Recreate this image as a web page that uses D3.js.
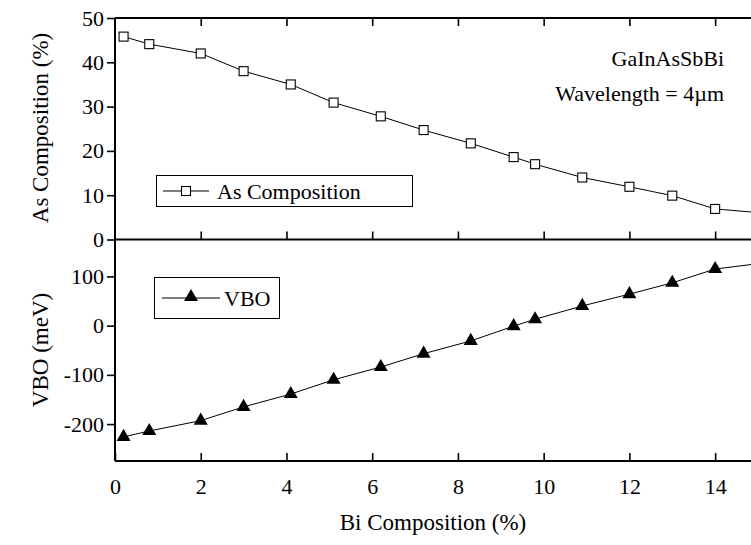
<!DOCTYPE html>
<html><head><meta charset="utf-8">
<script src="https://cdnjs.cloudflare.com/ajax/libs/d3/7.8.5/d3.min.js"></script>
</head><body style="margin:0"><svg id="c" width="751" height="545"></svg>
<script>
const biComp = [0.2, 0.8, 2.0, 3.0, 4.1, 5.1, 6.2, 7.2, 8.3, 9.3, 9.8, 10.9, 12.0, 13.0, 14.0, 15.1];
const asComp = [45.8, 44.1, 42.0, 38.0, 35.0, 30.9, 27.8, 24.7, 21.7, 18.6, 17.0, 14.0, 11.9, 9.9, 6.9, 6.0];
const vbo = [-226, -214, -193, -165, -139, -110, -84, -57, -31, -1, 13, 40, 64, 87, 115, 127];
const xTicks = [0, 2, 4, 6, 8, 10, 12, 14];
const asTicks = [0, 10, 20, 30, 40, 50];
const vboTicks = [-200, -100, 0, 100];
const xDomain = [0, 15], asDomain = [0, 50], vboDomain = [-275, 175];

const FONT = "Liberation Serif";
const svg = d3.select("#c");
const L = 115, R = 758, T1 = 18, MID = 239.5, B2 = 461;
const x = d3.scaleLinear().domain(xDomain).range([L, R]);
const y1 = d3.scaleLinear().domain(asDomain).range([MID, T1]);
const y2 = d3.scaleLinear().domain(vboDomain).range([B2, MID]);
const FS = 22;
const fmt = d => String(d);

const defs = svg.append("defs");
defs.append("clipPath").attr("id","cp1").append("rect").attr("x",L).attr("y",T1).attr("width",R-L).attr("height",MID-T1);
defs.append("clipPath").attr("id","cp2").append("rect").attr("x",L).attr("y",MID).attr("width",R-L).attr("height",B2-MID);

function styleAxis(g){
  g.attr("font-family", FONT).attr("font-size", FS);
  g.select(".domain").remove();
  g.selectAll(".tick line").attr("stroke","#000").attr("stroke-width",1.6);
  g.selectAll(".tick text").attr("font-size",FS).attr("font-family",FONT).style("font-family",FONT).attr("fill","#000");
}
svg.append("g").attr("transform",`translate(${L},0)`).call(d3.axisLeft(y1).tickValues(asTicks).tickSize(8).tickPadding(3).tickFormat(fmt)).call(styleAxis);
svg.append("g").attr("transform",`translate(${L},0)`).call(d3.axisLeft(y2).tickValues(vboTicks).tickSize(8).tickPadding(3).tickFormat(fmt)).call(styleAxis);
svg.append("g").attr("transform",`translate(${R},0)`).call(d3.axisLeft(y1).tickValues(asTicks.slice(1,5)).tickSize(6).tickFormat("")).call(styleAxis);
svg.append("g").attr("transform",`translate(${R},0)`).call(d3.axisLeft(y2).tickValues(vboTicks).tickSize(6).tickFormat("")).call(styleAxis);
svg.append("g").attr("transform",`translate(0,${T1})`).call(d3.axisBottom(x).tickValues(xTicks.slice(1)).tickSize(8).tickFormat("")).call(styleAxis);
svg.append("g").attr("transform",`translate(0,${MID})`).call(d3.axisTop(x).tickValues(xTicks.slice(1)).tickSize(8).tickFormat("")).call(styleAxis);
svg.append("g").attr("transform",`translate(0,${B2})`).call(d3.axisTop(x).tickValues(xTicks).tickSize(8).tickFormat("")).call(styleAxis);
svg.append("g").attr("transform",`translate(0,${B2})`).call(d3.axisBottom(x).tickValues(xTicks).tickSize(0).tickPadding(17).tickFormat(fmt)).call(styleAxis);

const fr = svg.append("g").attr("stroke","#000").attr("stroke-width",2).attr("fill","none");
fr.append("line").attr("x1",L).attr("x2",L).attr("y1",T1).attr("y2",B2);
fr.append("line").attr("x1",L).attr("x2",R).attr("y1",T1).attr("y2",T1);
fr.append("line").attr("x1",L).attr("x2",R).attr("y1",MID).attr("y2",MID);
fr.append("line").attr("x1",L).attr("x2",R).attr("y1",B2).attr("y2",B2);
fr.append("line").attr("x1",R).attr("x2",R).attr("y1",T1).attr("y2",B2);

const d1 = biComp.map((v,i)=>[v, asComp[i]]);
const d2 = biComp.map((v,i)=>[v, vbo[i]]);
const g1 = svg.append("g").attr("clip-path","url(#cp1)");
g1.append("path").datum(d1).attr("d", d3.line().x(d=>x(d[0])).y(d=>y1(d[1]))).attr("fill","none").attr("stroke","#000").attr("stroke-width",1);
g1.selectAll("rect.m").data(d1).join("rect").attr("class","m")
  .attr("x",d=>x(d[0])-4.5).attr("y",d=>y1(d[1])-4.5).attr("width",9).attr("height",9)
  .attr("fill","#fff").attr("stroke","#000").attr("stroke-width",1.1);
const g2 = svg.append("g").attr("clip-path","url(#cp2)");
g2.append("path").datum(d2).attr("d", d3.line().x(d=>x(d[0])).y(d=>y2(d[1]))).attr("fill","none").attr("stroke","#000").attr("stroke-width",1);
const tri = d3.symbol().type(d3.symbolTriangle).size(85);
g2.selectAll("path.m").data(d2).join("path").attr("class","m")
  .attr("transform",d=>`translate(${x(d[0])},${y2(d[1])})`).attr("d",tri).attr("fill","#000");

function txt(xp, yp, s, size, anchor, rot){
  const t = svg.append("text").attr("font-family",FONT).style("font-family",FONT).attr("font-size",size).attr("fill","#000").text(s);
  if (anchor) t.attr("text-anchor",anchor);
  if (rot) t.attr("transform",`translate(${xp},${yp}) rotate(${rot})`); else t.attr("x",xp).attr("y",yp);
  return t;
}

const lg1 = svg.append("g");
lg1.append("rect").attr("x",156.5).attr("y",175.5).attr("width",256).attr("height",31).attr("fill","#fff").attr("stroke","#000").attr("stroke-width",1);
lg1.append("line").attr("x1",163).attr("x2",209).attr("y1",191).attr("y2",191).attr("stroke","#000");
lg1.append("rect").attr("x",181.5).attr("y",186.5).attr("width",9).attr("height",9).attr("fill","#fff").attr("stroke","#000").attr("stroke-width",1.1);
txt(217, 199, "As Composition", FS);

const lg2 = svg.append("g");
lg2.append("rect").attr("x",154.5).attr("y",277.5).attr("width",125).attr("height",41).attr("fill","#fff").attr("stroke","#000").attr("stroke-width",1);
lg2.append("line").attr("x1",162).attr("x2",220).attr("y1",298).attr("y2",298).attr("stroke","#000");
lg2.append("path").attr("transform","translate(191,297)").attr("d",tri).attr("fill","#000");
txt(224, 306, "VBO", FS);

txt(724, 66, "GaInAsSbBi", FS, "end");
txt(724, 101, "Wavelength = 4\u00B5m", FS, "end");

txt(48, 128, "As Composition (%)", FS+1, "middle", -90);
txt(48, 350, "VBO (meV)", FS+1, "middle", -90);
txt(433, 530, "Bi Composition (%)", FS+1, "middle");
</script></body></html>
